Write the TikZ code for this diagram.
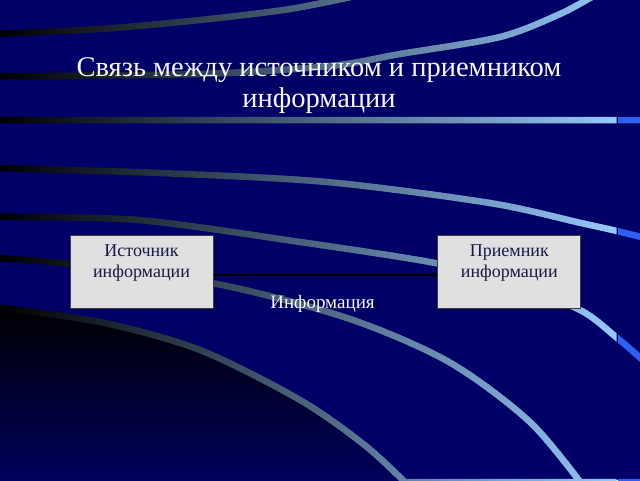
\documentclass[tikz,border=0pt]{standalone}
\usepackage{fontspec}
\setmainfont{Liberation Serif}
\usetikzlibrary{positioning,arrows.meta}

\definecolor{slidebg}{RGB}{0,0,102}
\definecolor{swooshlight}{RGB}{150,200,250}
\definecolor{tabblue}{RGB}{45,95,240}
\definecolor{boxgray}{RGB}{224,224,224}
\definecolor{boxline}{RGB}{60,60,60}
\definecolor{boxink}{RGB}{25,25,70}

\def\swooshes{%
  plot[smooth] coordinates {(-5,34) (100,29) (200,20) (290,9) (360,-5)}
  plot[smooth] coordinates {(-5,76) (200,74) (330,66) (400,54) (500,37) (560,14) (595,-5)}
  (-5,120) -- (645,120)
  plot[smooth] coordinates {(-5,168) (160,173) (327,182) (490,203) (581,223) (617,231) (645,238)}
  plot[smooth] coordinates {(-5,217) (138,220) (300,242) (435,263) (510,283) (580,310) (616,337) (645,362)}
  plot[smooth] coordinates {(-5,258) (60,263) (212,283) (347,318) (449,362) (531,423) (590,495)}
  plot[smooth] coordinates {(-5,307) (100,322) (200,350) (300,400) (367,447) (418,495)}
  (400,482) -- (645,482)}

\tikzset{
  swoosh/.style={line width=6.5pt},
  infobox/.style={draw=boxline, fill=boxgray, line width=0.8pt, inner sep=0pt, minimum width=143pt, minimum height=73pt},
  boxtext/.style={text=boxink, font=\fontsize{18}{21}\selectfont, align=center, inner sep=0pt},
  slidetitle/.style={text=white!94!gray, font=\fontsize{28.5}{31}\selectfont, align=center, inner sep=0pt},
  infolabel/.style={text=white!94!gray, font=\fontsize{19}{22}\selectfont, anchor=base, inner sep=0pt},
  infoarrow/.style={draw=black, line width=2.4pt, {Stealth[length=3pt,width=4pt]}-{Stealth[length=5pt,width=6pt]}}
}

\begin{document}
\begin{tikzpicture}[x=1pt,y=-1pt]
\useasboundingbox (0,0) rectangle (640,480);
\clip (0,0) rectangle (640,480);
\fill[slidebg] (0,0) rectangle (640,480);
\shade[top color=black, bottom color=slidebg] plot[smooth] coordinates {(-5,307) (100,322) (200,350) (300,400) (367,447) (418,495)} -- (-5,495) -- cycle;

\foreach \x in {0,8,...,608}{
  \pgfmathsetmacro\mix{(\x+4)/6.16}
  \begin{scope}
    \clip (\x,-10) rectangle (\x+8.6,495);
    \draw[swoosh, draw=swooshlight!\mix!black] \swooshes;
  \end{scope}
}
\begin{scope}
  \clip (618,-10) rectangle (645,495);
  \draw[swoosh, draw=tabblue] \swooshes;
\end{scope}

\node[slidetitle, anchor=north] (title) at (319,57) {Связь между источником и приемником\\информации};

\node[infobox] (src) at (141.5,271.5) {};
\node[infobox, right=224pt of src] (dst) {};
\node[boxtext, below=9.5pt of src.north] (srctext) {Источник\\информации};
\node[boxtext, below=9.5pt of dst.north] (dsttext) {Приемник\\информации};

\draw[infoarrow] ([yshift=-3.5pt]src.east) -- node[infolabel, pos=0.487, yshift=-33pt] (infolbl) {Информация} ([yshift=-3.5pt]dst.west);
\end{tikzpicture}
\end{document}
